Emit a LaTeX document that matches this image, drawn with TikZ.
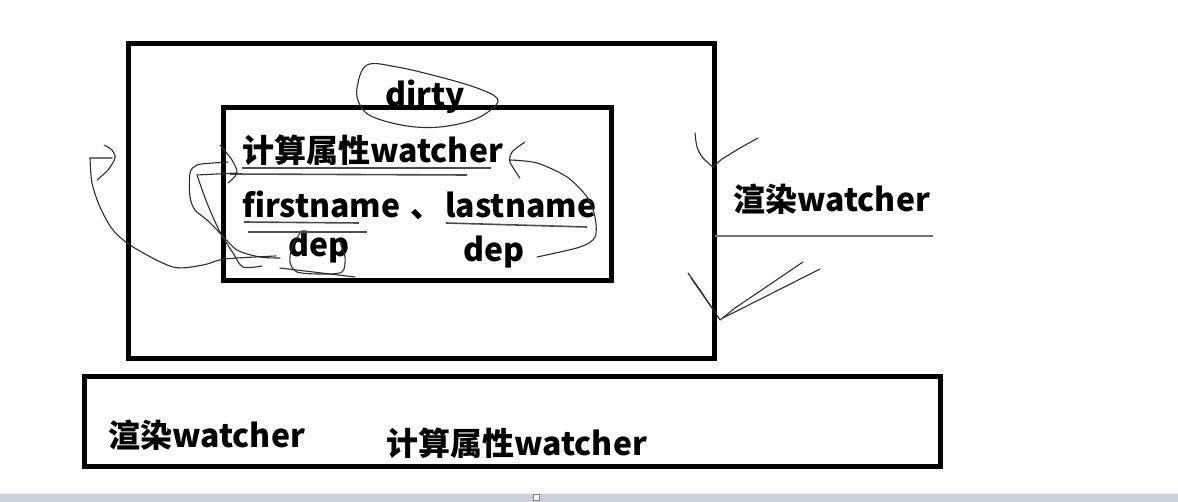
\documentclass[tikz,border=0pt]{standalone}
\usepackage{fontspec}
\setmainfont{Noto Sans CJK SC}
\definecolor{barblue}{RGB}{205,209,217}
\definecolor{pencil}{RGB}{45,45,45}
\tikzset{
  frame/.style={draw,line width=5pt},
  pen/.style={draw=pencil,line width=1.1pt,line join=round,line cap=round},
  uline/.style={draw=black!70,line width=1.6pt},
  wtext/.style={anchor=base west,inner sep=0pt,font=\fontsize{32}{38}\selectfont\bfseries}
}

\begin{document}
\begin{tikzpicture}[x=1pt,y=-1pt]
  \useasboundingbox (0,0) rectangle (1178,502);
  % texts first, so that the frame hides the tail of "dirty"
  \node[wtext] (dirty) at (385,107) {dirty};
  \node[wtext] (cw) at (242,163) {计算属性watcher};
  \node[wtext] (fn) at (242,218) {firstname};
  \node[wtext] (dun) at (410,218) {、};
  \node[wtext] (ln) at (445,218) {lastname};
  \node[wtext] (dep1) at (288,257) {dep};
  \node[wtext] (dep2) at (463,262) {dep};
  \node[wtext] (rw) at (733,212) {渲染watcher};
  \node[wtext] (rw2) at (108,447) {渲染watcher};
  \node[wtext] (cw2) at (386,455) {计算属性watcher};

  \draw[frame] (128,44) rectangle (714,359);
  \draw[frame] (223,108) rectangle (611,281);
  \draw[frame] (84,377) rectangle (940,466);

  % underlines
  \draw[uline] (242,168) -- (491,168);
  \draw[uline] (230,174) -- (467,175);
  \draw[uline] (244,222) -- (359,223);
  \draw[uline] (248,232) -- (367,232);
  \draw[uline] (446,223) -- (587,227);
  \draw[draw=black!55,line width=1.5pt] (715,236) -- (933,236);

  % pen strokes
  \draw[pen] plot[smooth cycle,tension=0.6] coordinates {(367,65) (397,67) (440,77) (477,88) (497,98) (493,108) (473,120) (440,127) (407,126) (373,117) (360,105) (357,88)};
  \draw[pen] plot[smooth] coordinates {(104,145) (112,150) (115,158) (108,170) (97,180)};
  \draw[pen] (112,158) -- (90,158) plot[smooth] coordinates {(90,158) (92,183) (100,207) (113,230) (133,247) (173,267) (203,265) (225,259) (276,256)};
  \draw[pen] plot[smooth] coordinates {(228,162) (213,163) (197,165) (190,173) (190,197) (195,210) (207,220) (220,233) (237,250) (260,257) (280,258)};
  \draw[pen] (237,173) -- (197,175) plot[smooth] coordinates {(197,175) (207,203) (220,232) (233,253) (243,267) (262,266)};
  \draw[pen] plot[smooth] coordinates {(220,145) (232,160) (237,173) (228,183)};
  \draw[pen] plot[smooth] coordinates {(300,233) (292,247) (290,262) (297,272) (320,274) (342,272) (345,257) (340,243)};
  \draw[pen] (280,268) -- (355,277);
  \draw[pen] plot[smooth] coordinates {(525,142) (512,152) (510,162) (520,178)};
  \draw[pen] plot[smooth] coordinates {(510,160) (537,163) (567,177) (587,197) (595,217) (595,237) (580,247) (537,257)};
  \draw[pen] plot[smooth] coordinates {(695,133) (697,147) (703,158) (713,167)} -- (722,159) -- (740,148) -- (758,138);
  \draw[pen] plot[smooth] coordinates {(688,273) (700,290) (710,305) (720,320)} -- (735,308) -- (803,262);
  \draw[pen] (820,269) -- (723,318);
  \draw[pen] (691,278) -- (712,308);

  % status bar of the screenshot
  \fill[barblue] (0,493) rectangle (1178,502);
  \draw[white!70!barblue,line width=1pt] (0,493.5) -- (1178,493.5);
  \draw[gray,fill=white,line width=0.8pt] (533,494.5) rectangle (539,500);
\end{tikzpicture}
\end{document}
